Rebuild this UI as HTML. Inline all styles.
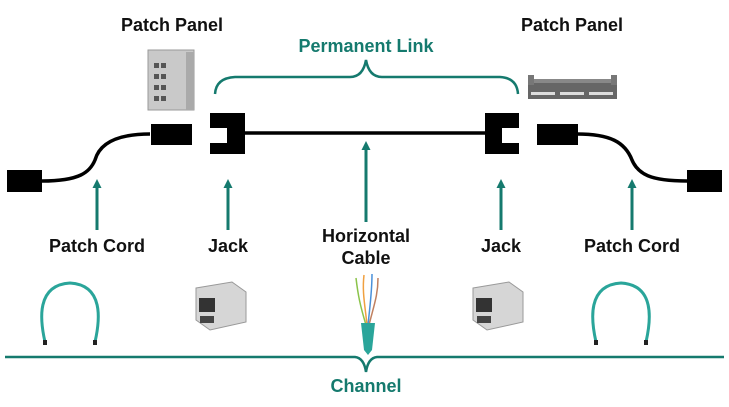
<!DOCTYPE html>
<html><head><style>
html,body{margin:0;padding:0;background:#fff;}
svg{display:block;}
text{font-family:"Liberation Sans",sans-serif;font-weight:bold;}
</style></head><body>
<svg width="729" height="407" viewBox="0 0 729 407" xmlns="http://www.w3.org/2000/svg">
<defs>
<marker id="ah" markerUnits="userSpaceOnUse" markerWidth="10" markerHeight="10" refX="2" refY="5" orient="auto"><path d="M0,0.5 L9,5 L0,9.5 z" fill="#157a6e"/></marker>
</defs>
<text x="172" y="31" font-size="18" text-anchor="middle" fill="#111">Patch Panel</text>
<text x="572" y="31" font-size="18" text-anchor="middle" fill="#111">Patch Panel</text>
<text x="366" y="52" font-size="18" text-anchor="middle" fill="#157a6e">Permanent Link</text>
<path d="M215,94 Q216,78 235,77 L350,77 Q363,77 366,60 Q369,77 382,77 L500,77 Q517,78 518,94" fill="none" stroke="#157a6e" stroke-width="2.5"/>
<rect x="148" y="50" width="46" height="60" fill="#c9c9c9" stroke="#999"/>
<rect x="186" y="52" width="8" height="58" fill="#aaa"/>
<g fill="#555">
<rect x="154" y="63" width="5" height="5"/><rect x="161" y="63" width="5" height="5"/>
<rect x="154" y="74" width="5" height="5"/><rect x="161" y="74" width="5" height="5"/>
<rect x="154" y="85" width="5" height="5"/><rect x="161" y="85" width="5" height="5"/>
<rect x="154" y="96" width="5" height="5"/><rect x="161" y="96" width="5" height="5"/>
</g>
<rect x="528" y="82" width="89" height="17" fill="#666"/>
<rect x="528" y="75" width="6" height="10" fill="#777"/><rect x="611" y="75" width="6" height="10" fill="#777"/>
<rect x="534" y="79" width="77" height="4" fill="#888"/>
<g fill="#ddd"><rect x="531" y="92" width="24" height="3"/><rect x="560" y="92" width="24" height="3"/><rect x="589" y="92" width="24" height="3"/></g>
<path d="M42,181 C80,181 90,172 95,160 C100,142 120,134 150,134" fill="none" stroke="#000" stroke-width="3.5"/>
<path d="M577,134 C610,134 625,142 632,160 C638,174 650,181 687,181" fill="none" stroke="#000" stroke-width="3.5"/>
<rect x="7" y="170" width="35" height="22" fill="#000"/>
<rect x="151" y="124" width="41" height="21" fill="#000"/>
<rect x="537" y="124" width="41" height="21" fill="#000"/>
<rect x="687" y="170" width="35" height="22" fill="#000"/>
<path d="M210,113 H245 V154 H210 V143 H227 V128 H210 Z" fill="#000"/>
<path d="M519,113 H485 V154 H519 V143 H502 V128 H519 Z" fill="#000"/>
<line x1="245" y1="133" x2="485" y2="133" stroke="#000" stroke-width="3.5"/>
<g stroke="#157a6e" stroke-width="3">
<line x1="97" y1="230" x2="97" y2="186" marker-end="url(#ah)"/>
<line x1="228" y1="230" x2="228" y2="186" marker-end="url(#ah)"/>
<line x1="366" y1="222" x2="366" y2="148" marker-end="url(#ah)"/>
<line x1="501" y1="230" x2="501" y2="186" marker-end="url(#ah)"/>
<line x1="632" y1="230" x2="632" y2="186" marker-end="url(#ah)"/>
</g>
<g font-size="18" fill="#111" text-anchor="middle">
<text x="97" y="252">Patch Cord</text>
<text x="228" y="252">Jack</text>
<text x="366" y="242">Horizontal</text>
<text x="366" y="264">Cable</text>
<text x="501" y="252">Jack</text>
<text x="632" y="252">Patch Cord</text>
</g>
<g fill="none" stroke="#2aa59a" stroke-width="3">
<path d="M45,342 C40,320 36,285 70,283 C104,285 100,320 95,342"/>
<path d="M596,342 C591,320 587,285 621,283 C655,285 651,320 646,342"/>
</g>
<g fill="#222"><rect x="43" y="340" width="4" height="5"/><rect x="93" y="340" width="4" height="5"/><rect x="594" y="340" width="4" height="5"/><rect x="644" y="340" width="4" height="5"/></g>
<g>
<path d="M196,288 L232,282 L246,292 L246,322 L210,330 L196,320 Z" fill="#d6d6d6" stroke="#999"/>
<rect x="199" y="298" width="16" height="14" fill="#333"/><rect x="200" y="316" width="14" height="7" fill="#444"/>
<path d="M473,288 L509,282 L523,292 L523,322 L487,330 L473,320 Z" fill="#d6d6d6" stroke="#999"/>
<rect x="476" y="298" width="16" height="14" fill="#333"/><rect x="477" y="316" width="14" height="7" fill="#444"/>
</g>
<g fill="none" stroke-width="1.5">
<path d="M366,325 C360,305 358,295 356,278" stroke="#8bc34a"/>
<path d="M367,325 C365,305 362,292 364,275" stroke="#f0a040"/>
<path d="M368,325 C370,305 372,292 372,274" stroke="#4a90d9"/>
<path d="M369,325 C374,305 378,295 378,278" stroke="#c08060"/>
</g>
<path d="M361,323 L375,323 L372,350 L368,355 L364,350 Z" fill="#2aa59a"/>
<path d="M5,357 L355,357 Q364,358 366,372 Q368,358 377,357 L724,357" fill="none" stroke="#157a6e" stroke-width="2.5"/>
<text x="366" y="392" font-size="18" text-anchor="middle" fill="#157a6e">Channel</text>
</svg>
</body></html>
